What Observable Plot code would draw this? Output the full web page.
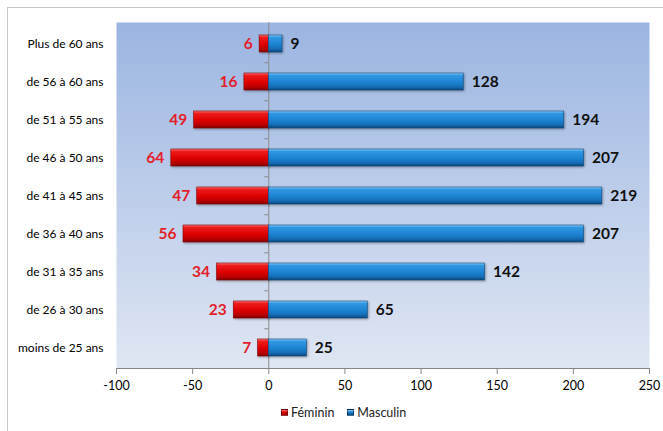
<!DOCTYPE html>
<html>
<head>
<meta charset="utf-8">
<script src="https://cdn.jsdelivr.net/npm/d3@7"></script>
<script src="https://cdn.jsdelivr.net/npm/@observablehq/plot@0.6"></script>
<style>
  body { margin: 0; background: #fff; font-family: Lato, "DejaVu Sans", sans-serif; }
  #wrap { position: relative; width: 663px; height: 431px; overflow: hidden; }
  #frame { position: absolute; left: 7px; top: 7px; width: 700px; height: 500px;
           border-left: 1px solid #c8c8c8; border-top: 1px solid #c8c8c8; pointer-events: none; }
  #chart svg { display: block; }
  g[aria-label="bar"] rect { filter: drop-shadow(1.5px 1.5px 1px rgba(0,0,0,0.35)); }
  #legend { position: absolute; top: 405px; left: 281px; display: flex; align-items: center;
            font: 12.5px Lato, sans-serif; color: #222; }
  #legend .item { display: flex; align-items: center; margin-right: 13px; }
  #legend .sw { width: 7px; height: 7px; margin-right: 3px; border: 0.5px solid rgba(0,0,0,0.4); box-sizing: border-box; }
</style>
</head>
<body>
<div id="wrap">
  <div id="chart"></div>
  <div id="legend"></div>
  <div id="frame"></div>
</div>
<script>
// Tranches d'âge, du haut vers le bas
const categories = [
  "Plus de 60 ans", "de 56 à 60 ans", "de 51 à 55 ans", "de 46 à 50 ans",
  "de 41 à 45 ans", "de 36 à 40 ans", "de 31 à 35 ans", "de 26 à 30 ans",
  "moins de 25 ans"
];
// Effectifs par sexe
const feminin  = [6, 16, 49, 64, 47, 56, 34, 23, 7];
const masculin = [9, 128, 194, 207, 219, 207, 142, 65, 25];
// Graduations de l'axe horizontal
const xTicks = [-100, -50, 0, 50, 100, 150, 200, 250];
const seriesNames = ["Féminin", "Masculin"];

const W = 663, H = 400, mTop = 22, mBottom = 32, mLeft = 116, mRight = 14;
const step = (H - mTop - mBottom) / categories.length;

const fem = categories.map((age, i) => ({age, n: feminin[i]}));
const mas = categories.map((age, i) => ({age, n: masculin[i]}));

const defsMark = () => {
  const defs = document.createElementNS("http://www.w3.org/2000/svg", "defs");
  defs.innerHTML = `
    <linearGradient id="bg" x1="0" y1="0" x2="0" y2="1">
      <stop offset="0" stop-color="#9bb5e1"/>
      <stop offset="1" stop-color="#dfe6f3"/>
    </linearGradient>
    <linearGradient id="gFem" x1="0" y1="0" x2="0" y2="1">
      <stop offset="0" stop-color="#f77a7a"/>
      <stop offset="0.14" stop-color="#ee1c1c"/>
      <stop offset="0.55" stop-color="#dc0000"/>
      <stop offset="0.82" stop-color="#b80000"/>
      <stop offset="1" stop-color="#7a0000"/>
    </linearGradient>
    <linearGradient id="gMas" x1="0" y1="0" x2="0" y2="1">
      <stop offset="0" stop-color="#8fcdf7"/>
      <stop offset="0.14" stop-color="#3098e2"/>
      <stop offset="0.55" stop-color="#1b83d2"/>
      <stop offset="0.82" stop-color="#156cb5"/>
      <stop offset="1" stop-color="#0b4577"/>
    </linearGradient>`;
  return defs;
};

// Ligne de base de l'axe horizontal
const baseLine = (index, scales, values, dim) => {
  const l = document.createElementNS("http://www.w3.org/2000/svg", "line");
  const y = dim.height - dim.marginBottom + 0.5;
  l.setAttribute("x1", dim.marginLeft);
  l.setAttribute("x2", dim.width - dim.marginRight);
  l.setAttribute("y1", y);
  l.setAttribute("y2", y);
  l.setAttribute("stroke", "#868686");
  return l;
};

const chart = Plot.plot({
  width: W, height: H,
  marginTop: mTop, marginBottom: mBottom, marginLeft: mLeft, marginRight: mRight,
  style: {fontFamily: "Lato, sans-serif", fontSize: "12px", color: "#000", background: "transparent"},
  x: {domain: [-100, 250], axis: null},
  y: {domain: categories, paddingInner: 0.56, paddingOuter: 0.28, axis: null},
  marks: [
    defsMark,
    Plot.frame({fill: "url(#bg)", stroke: null}),
    Plot.ruleX([0], {stroke: "#8a8a8a", strokeWidth: 1}),
    Plot.ruleY(categories.slice(1), {y: d => d, x1: -2.6, x2: 0, dy: -step / 2, stroke: "#8a8a8a"}),
    Plot.barX(fem, {y: "age", x1: 0, x2: d => -d.n, fill: "url(#gFem)", stroke: "#8c0000", strokeWidth: 0.6}),
    Plot.barX(mas, {y: "age", x1: 0, x2: "n", fill: "url(#gMas)", stroke: "#0d4a80", strokeWidth: 0.6}),
    Plot.text(fem, {y: "age", x: d => -d.n, text: d => String(d.n), textAnchor: "end", dx: -7,
      fill: "#e3202a", fontWeight: "bold", fontSize: 15.5}),
    Plot.text(mas, {y: "age", x: "n", text: d => String(d.n), textAnchor: "start", dx: 8,
      fill: "#111", fontWeight: "bold", fontSize: 15.5}),
    Plot.axisY({tickSize: 0, tickPadding: 13, label: null, fill: "#000"}),
    Plot.axisX({ticks: xTicks, tickSize: 6, tickPadding: 7, tickFormat: d => String(d),
      label: null, stroke: "#868686", fill: "#000", fontSize: 12.5}),
    baseLine
  ]
});
document.getElementById("chart").append(chart);

// Légende
const legend = document.getElementById("legend");
const swatchFills = [
  "linear-gradient(#f77a7a, #e00000 40%, #9a0000)",
  "linear-gradient(#8fcdf7, #1b83d2 40%, #0d4f8a)"
];
seriesNames.forEach((name, i) => {
  const item = document.createElement("div");
  item.className = "item";
  const sw = document.createElement("span");
  sw.className = "sw";
  sw.style.background = swatchFills[i];
  const t = document.createElement("span");
  t.textContent = name;
  item.append(sw, t);
  legend.append(item);
});
</script>
</body>
</html>
